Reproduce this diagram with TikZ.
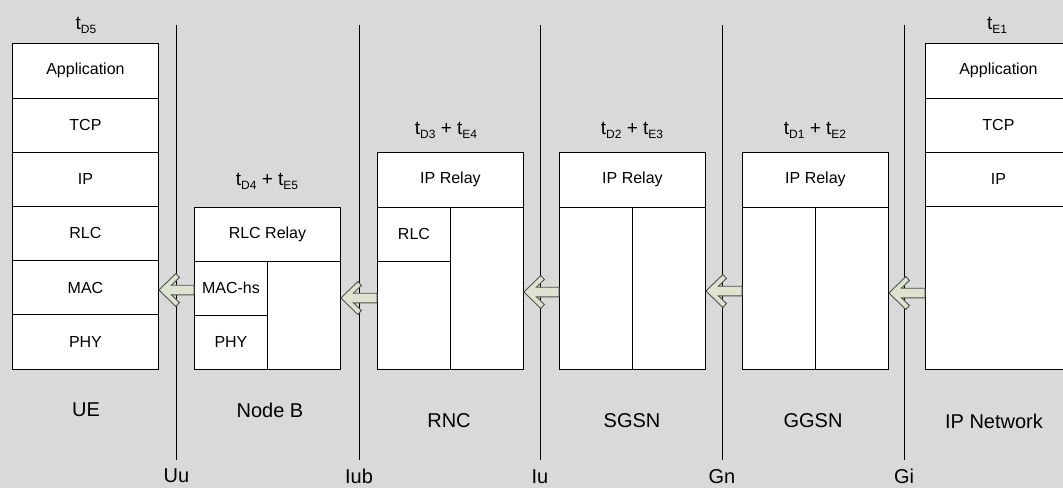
\documentclass[tikz,border=0pt]{standalone}
\usepackage{fontspec}
\setmainfont{Liberation Sans}
\usetikzlibrary{calc}
\definecolor{bggray}{RGB}{217,217,217}
\definecolor{arrowfill}{RGB}{221,227,206}
\definecolor{arrowline}{RGB}{80,80,80}
\newcommand\sbsc[1]{\raisebox{-0.4ex}{\fontsize{12}{12}\selectfont #1}}
\newcommand\fatarrow[2]{%
  \draw[farrow] (#1) -- ++(17,-16.5) -- ++(3.5,4) -- ++(-8,7.7)
    -- ($(#2)+(0,-4.8)$) -- ($(#2)+(0,4.8)$) -- ($(#1)+(12.5,4.8)$)
    -- ++(8,7.7) -- ++(-3.5,4) -- cycle;}
\begin{document}
\begin{tikzpicture}[x=1pt,y=-1pt,
  cell/.style={draw=black, fill=white, line width=0.9pt, inner sep=0pt, anchor=north west,
    font=\fontsize{16}{18}\selectfont},
  ifline/.style={draw=black, line width=0.9pt},
  timelbl/.style={font=\fontsize{19}{22}\selectfont, inner sep=0pt},
  entlbl/.style={font=\fontsize{20}{24}\selectfont, inner sep=0pt},
  farrow/.style={fill=arrowfill, draw=arrowline, line width=0.9pt, line join=miter}]
\useasboundingbox (0,0) rectangle (1063,488);
\fill[bggray] (0,0) rectangle (1063,488);
\clip (0,0) rectangle (1063,488);

% interface lines
\foreach \n/\x in {uu/176.5, iub/359, iu/540, gn/722, gi/904}{
  \coordinate (\n T) at (\x,25);
  \coordinate (\n B) at (\x,460);
  \draw[ifline] (\n T) -- (\n B);
}
\node[entlbl] (uu) at (176.5,476) {Uu};
\node[entlbl] (iub) at (359,476) {Iub};
\node[entlbl] (iu) at (540,477) {Iu};
\node[entlbl] (gn) at (722,477) {Gn};
\node[entlbl] (gi) at (904,476) {Gi};

% UE
\node[cell, minimum width=146pt, minimum height=54.2pt] (ue1) at (12,43.3) {Application};
\node[cell, minimum width=146pt, minimum height=54.2pt] (ue2) at (12,97.5) {TCP};
\node[cell, minimum width=146pt, minimum height=54.2pt] (ue3) at (12,151.7) {IP};
\node[cell, minimum width=146pt, minimum height=54.2pt] (ue4) at (12,205.9) {RLC};
\node[cell, minimum width=146pt, minimum height=54.2pt] (ue5) at (12,260.1) {MAC};
\node[cell, minimum width=146pt, minimum height=54.2pt] (ue6) at (12,314.3) {PHY};

% Node B
\node[cell, minimum width=146pt, minimum height=54.2pt] (nb1) at (194,206.5) {RLC Relay};
\node[cell, minimum width=73pt, minimum height=54.2pt] (nb2) at (194,260.7) {MAC-hs};
\node[cell, minimum width=73pt, minimum height=54.1pt] (nb3) at (194,314.9) {PHY};
\node[cell, minimum width=73pt, minimum height=108.3pt] (nb4) at (267,260.7) {};

% RNC
\node[cell, minimum width=146pt, minimum height=54.2pt] (rn1) at (377,152.3) {IP Relay};
\node[cell, minimum width=73pt, minimum height=54.2pt] (rn2) at (377,206.5) {RLC};
\node[cell, minimum width=73pt, minimum height=108.3pt] (rn3) at (377,260.7) {};
\node[cell, minimum width=73pt, minimum height=162.5pt] (rn4) at (450,206.5) {};

% SGSN
\node[cell, minimum width=146pt, minimum height=54.2pt] (sg1) at (559,152.3) {IP Relay};
\node[cell, minimum width=73pt, minimum height=162.5pt] (sg2) at (559,206.5) {};
\node[cell, minimum width=73pt, minimum height=162.5pt] (sg3) at (632,206.5) {};

% GGSN
\node[cell, minimum width=146pt, minimum height=54.2pt] (gg1) at (742,152.3) {IP Relay};
\node[cell, minimum width=73pt, minimum height=162.5pt] (gg2) at (742,206.5) {};
\node[cell, minimum width=73pt, minimum height=162.5pt] (gg3) at (815,206.5) {};

% IP Network
\node[cell, minimum width=146pt, minimum height=54.2pt] (ip1) at (925,43.3) {Application};
\node[cell, minimum width=146pt, minimum height=54.2pt] (ip2) at (925,97.5) {TCP};
\node[cell, minimum width=146pt, minimum height=54.2pt] (ip3) at (925,151.7) {IP};
\node[cell, minimum width=146pt, minimum height=162.8pt] (ip4) at (925,205.9) {};

% arrows
\fatarrow{ue5.east |- 0,290}{nb2.west |- 0,290}
\fatarrow{nb4.east |- 0,298}{rn3.west |- 0,298}
\fatarrow{rn4.east |- 0,292}{sg2.west |- 0,292}
\fatarrow{sg3.east |- 0,291}{gg2.west |- 0,291}
\fatarrow{gg3.east |- 0,293}{ip4.west |- 0,293}

% time labels
\node[timelbl] (tue) at (86,25) {t\sbsc{D5}};
\node[timelbl] (tnb) at (267,181) {t\sbsc{D4} + t\sbsc{E5}};
\node[timelbl] (trn) at (446,130) {t\sbsc{D3} + t\sbsc{E4}};
\node[timelbl] (tsg) at (632,130) {t\sbsc{D2} + t\sbsc{E3}};
\node[timelbl] (tgg) at (815,130) {t\sbsc{D1} + t\sbsc{E2}};
\node[timelbl] (tip) at (997,25) {t\sbsc{E1}};

% entity labels
\node[entlbl] (lue) at (86,410) {UE};
\node[entlbl] (lnb) at (270,410) {Node B};
\node[entlbl] (lrn) at (449,421) {RNC};
\node[entlbl] (lsg) at (632,421) {SGSN};
\node[entlbl] (lgg) at (813,421) {GGSN};
\node[entlbl] (lip) at (994,421) {IP Network};
\end{tikzpicture}
\end{document}
